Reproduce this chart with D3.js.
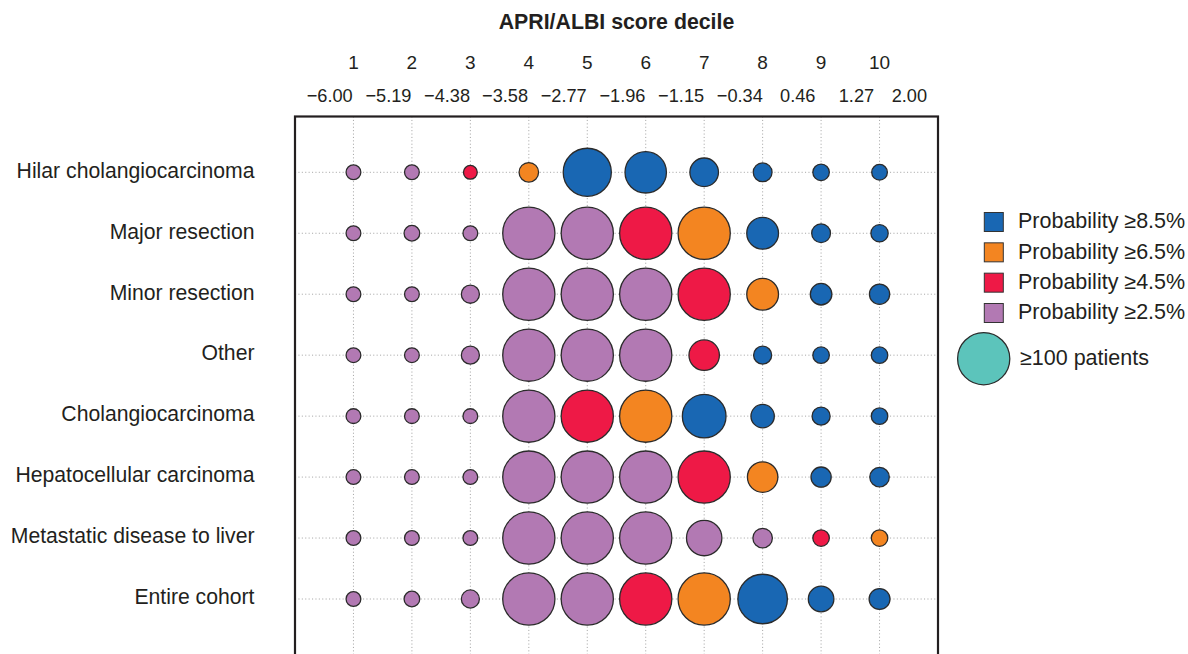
<!DOCTYPE html>
<html>
<head>
<meta charset="utf-8">
<script src="https://cdn.jsdelivr.net/npm/d3@7"></script>
<style>
  html, body { margin: 0; padding: 0; background: #fff; }
  svg { display: block; font-family: "Liberation Sans", Arial, Helvetica, sans-serif; }
</style>
</head>
<body>
<svg id="chart" width="1188" height="654"></svg>
<script>
// Subgroups (rows, top to bottom)
const groups = [
  "Hilar cholangiocarcinoma",
  "Major resection",
  "Minor resection",
  "Other",
  "Cholangiocarcinoma",
  "Hepatocellular carcinoma",
  "Metastatic disease to liver",
  "Entire cohort"
];

// Score deciles (columns) and decile cut points of the APRI/ALBI score
const deciles = [1, 2, 3, 4, 5, 6, 7, 8, 9, 10];
const cutPoints = [-6.00, -5.19, -4.38, -3.58, -2.77, -1.96, -1.15, -0.34, 0.46, 1.27, 2.00];

// Number of patients per subgroup and decile (circle area; 100 = "≥100 patients")
const patients = [
  [8, 8, 7, 14, 85, 63, 30, 13, 10, 9],
  [8, 9, 8, 100, 100, 100, 100, 37, 13, 11],
  [8, 8, 12, 100, 100, 100, 100, 37, 17, 15],
  [8, 8, 12, 100, 100, 100, 34, 12, 10, 10],
  [8, 8, 8, 100, 100, 100, 70, 20, 12, 10],
  [8, 8, 8, 100, 100, 100, 100, 34, 15, 14],
  [8, 8, 8, 100, 100, 100, 46, 14, 10, 10],
  [8, 9, 12, 100, 100, 100, 100, 90, 24, 16]
];

// Probability band (lower bound, %) per subgroup and decile
const probBand = [
  [2.5, 2.5, 4.5, 6.5, 8.5, 8.5, 8.5, 8.5, 8.5, 8.5],
  [2.5, 2.5, 2.5, 2.5, 2.5, 4.5, 6.5, 8.5, 8.5, 8.5],
  [2.5, 2.5, 2.5, 2.5, 2.5, 2.5, 4.5, 6.5, 8.5, 8.5],
  [2.5, 2.5, 2.5, 2.5, 2.5, 2.5, 4.5, 8.5, 8.5, 8.5],
  [2.5, 2.5, 2.5, 2.5, 4.5, 6.5, 8.5, 8.5, 8.5, 8.5],
  [2.5, 2.5, 2.5, 2.5, 2.5, 2.5, 4.5, 6.5, 8.5, 8.5],
  [2.5, 2.5, 2.5, 2.5, 2.5, 2.5, 2.5, 2.5, 4.5, 6.5],
  [2.5, 2.5, 2.5, 2.5, 2.5, 4.5, 6.5, 8.5, 8.5, 8.5]
];

// Legend bands, highest first
const bands = [8.5, 6.5, 4.5, 2.5];
const bandColors = ["#1967b3", "#f38521", "#ee1946", "#b279b3"];
const sizeLegendValue = 100;
const sizeLegendColor = "#5cc4bb";

const svg = d3.select("#chart");

const frame = { left: 295, right: 938, top: 116.5, bottom: 670 };

// Column scale: deciles sit at 1..10 inside a 0..11 frame
const x = d3.scaleLinear().domain([0, 11]).range([frame.left, frame.right]);
// Cut-point labels placed along the score itself
const xScore = d3.scaleLinear().domain([-6, 2]).range([x(0.594), x(10.51)]);
const y = d3.scalePoint().domain(groups).range([172.3, 599]);
const r = d3.scaleSqrt().domain([0, 100]).range([0, 26.1]).clamp(true);
const color = d3.scaleOrdinal().domain(bands).range(bandColors);

// Dotted grid
const grid = svg.append("g")
  .attr("stroke", "#a9a9a9")
  .attr("stroke-width", 1)
  .attr("stroke-dasharray", "1.1,2.3");
grid.selectAll("line.v").data(deciles).join("line")
  .attr("class", "v")
  .attr("x1", d => x(d)).attr("x2", d => x(d))
  .attr("y1", frame.top).attr("y2", frame.bottom);
grid.selectAll("line.h").data(groups).join("line")
  .attr("class", "h")
  .attr("x1", frame.left).attr("x2", frame.right)
  .attr("y1", d => y(d)).attr("y2", d => y(d));

// Frame
svg.append("rect")
  .attr("x", frame.left).attr("y", frame.top)
  .attr("width", frame.right - frame.left)
  .attr("height", frame.bottom - frame.top)
  .attr("fill", "none")
  .attr("stroke", "#231f20")
  .attr("stroke-width", 2.2);

// Bubbles
const cells = [];
groups.forEach((g, i) => deciles.forEach((d, j) => {
  cells.push({ group: g, decile: d, n: patients[i][j], band: probBand[i][j] });
}));
svg.append("g").selectAll("circle").data(cells).join("circle")
  .attr("cx", d => x(d.decile))
  .attr("cy", d => y(d.group))
  .attr("r", d => r(d.n))
  .attr("fill", d => color(d.band))
  .attr("stroke", "#2b2b2b")
  .attr("stroke-width", 1.3);

// Row labels
svg.append("g").selectAll("text").data(groups).join("text")
  .attr("x", 254.5)
  .attr("y", d => y(d))
  .attr("dy", "0.25em")
  .attr("text-anchor", "end")
  .attr("font-size", 21.2)
  .attr("fill", "#231f20")
  .text(d => d);

// Title
svg.append("text")
  .attr("x", (frame.left + frame.right) / 2)
  .attr("y", 29.3)
  .attr("text-anchor", "middle")
  .attr("font-size", 21.3)
  .attr("font-weight", "bold")
  .attr("fill", "#231f20")
  .text("APRI/ALBI score decile");

// Decile numbers
svg.append("g").selectAll("text").data(deciles).join("text")
  .attr("x", d => x(d))
  .attr("y", 69)
  .attr("text-anchor", "middle")
  .attr("font-size", 19)
  .attr("fill", "#231f20")
  .text(d => d);

// Cut-point values
svg.append("g").selectAll("text").data(cutPoints).join("text")
  .attr("x", d => xScore(d))
  .attr("y", 101.7)
  .attr("text-anchor", "middle")
  .attr("font-size", 18.2)
  .attr("fill", "#231f20")
  .text(d => d3.format(".2f")(d).replace("-", "\u2013"));

// Legend
const legend = svg.append("g");
const lg = d3.scalePoint().domain(bands).range([222, 313]);
legend.selectAll("rect").data(bands).join("rect")
  .attr("x", 984.3)
  .attr("y", d => lg(d) - 9.5)
  .attr("width", 19).attr("height", 19)
  .attr("fill", d => color(d))
  .attr("stroke", "#333")
  .attr("stroke-width", 1);
legend.selectAll("text.band").data(bands).join("text")
  .attr("class", "band")
  .attr("x", 1018)
  .attr("y", d => lg(d))
  .attr("dy", "0.3em")
  .attr("font-size", 21.5)
  .attr("fill", "#231f20")
  .text(d => "Probability \u2265" + d + "%");

legend.append("circle")
  .attr("cx", 983.7).attr("cy", 358.7)
  .attr("r", r(sizeLegendValue))
  .attr("fill", sizeLegendColor)
  .attr("stroke", "#2b2b2b")
  .attr("stroke-width", 1.3);
legend.append("text")
  .attr("x", 1020).attr("y", 358.7)
  .attr("dy", "0.3em")
  .attr("font-size", 21.5)
  .attr("fill", "#231f20")
  .text("\u2265" + sizeLegendValue + " patients");
</script>
</body>
</html>
